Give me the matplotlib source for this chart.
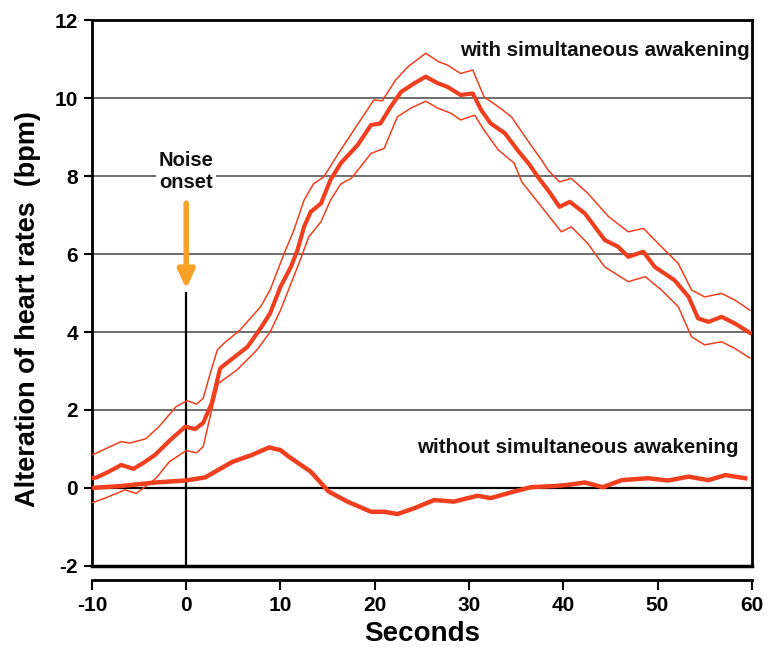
import matplotlib
matplotlib.use("Agg")
import matplotlib.pyplot as plt

plt.rcParams["font.family"] = ["Liberation Sans", "DejaVu Sans"]
plt.rcParams["font.weight"] = "bold"
plt.rcParams["axes.unicode_minus"] = False

RED = "#EF3F1F"
ORANGE = "#F7A128"

# with simultaneous awakening: mean and band
main_x = [-10, -9.5, -8.2, -6.9, -5.6, -4.5, -3.3, -1.7, -0.1, 0.95,
          1.8, 2.3, 2.7, 3.6, 4.7, 6.5, 7.9, 8.9, 10.0, 11.1,
          11.8, 12.5, 13.2, 14.3, 15.3, 16.4, 18.2, 19.6, 20.6, 21.7,
          22.8, 24.2, 25.4, 26.7, 27.7, 29.1, 30.4, 31.3, 32.3, 33.8,
          35.2, 36.4, 37.3, 38.5, 39.6, 40.7, 42.3, 44.4, 45.8, 46.9,
          48.5, 49.7, 51.8, 53.3, 54.3, 55.4, 56.8, 58.2, 59.8]
main_y = [0.25, 0.27, 0.42, 0.59, 0.49, 0.65, 0.85, 1.23, 1.57, 1.51,
          1.67, 1.95, 2.17, 3.07, 3.28, 3.62, 4.10, 4.48, 5.16, 5.67,
          6.10, 6.70, 7.08, 7.30, 7.90, 8.33, 8.80, 9.31, 9.35, 9.78,
          10.16, 10.38, 10.55, 10.38, 10.29, 10.08, 10.12, 9.69, 9.35, 9.10,
          8.65, 8.30, 7.98, 7.60, 7.21, 7.34, 7.04, 6.36, 6.19, 5.93,
          6.06, 5.67, 5.33, 4.90, 4.35, 4.26, 4.39, 4.22, 3.98]

up_x = [-10, -9.5, -6.9, -6.0, -4.3, -2.9, -1.1, 0.1, 1.1, 1.8,
        2.5, 3.3, 4.0, 5.7, 7.9, 8.9, 10.4, 11.4, 12.5, 13.5,
        14.6, 16.2, 18.5, 19.9, 20.8, 22.2, 23.5, 25.4, 26.8, 27.7,
        29.1, 30.4, 31.6, 33.1, 34.5, 36.2, 37.7, 38.4, 39.6, 40.85,
        42.6, 44.8, 46.9, 48.5, 50.4, 52.2, 53.6, 55.0, 56.8, 58.2, 59.8]
up_y = [0.85, 0.90, 1.19, 1.15, 1.26, 1.57, 2.08, 2.24, 2.15, 2.30,
        2.90, 3.54, 3.71, 4.05, 4.65, 5.08, 6.02, 6.60, 7.38, 7.80,
        7.98, 8.60, 9.44, 9.95, 9.93, 10.46, 10.80, 11.15, 10.93, 10.85,
        10.63, 10.72, 10.03, 9.78, 9.52, 8.92, 8.41, 8.15, 7.85, 7.94,
        7.56, 6.96, 6.57, 6.66, 6.19, 5.76, 5.08, 4.90, 4.99, 4.82, 4.56]

lo_x = [-10, -8.6, -6.5, -5.3, -3.2, -1.8, 0.0, 1.1, 1.8, 2.6,
        3.4, 5.4, 7.5, 8.9, 10.0, 12.1, 13.0, 14.3, 15.3, 16.4,
        17.5, 18.5, 19.6, 21.0, 22.4, 23.8, 25.4, 26.7, 28.1, 29.1,
        30.6, 31.6, 33.1, 34.8, 35.6, 37.7, 39.8, 40.85, 42.6, 44.4,
        46.9, 48.7, 50.4, 52.2, 53.6, 55.0, 56.8, 58.2, 59.8]
lo_y = [-0.38, -0.26, -0.05, -0.14, 0.25, 0.67, 0.96, 0.90, 1.06, 1.90,
        2.68, 3.03, 3.54, 4.00, 4.56, 5.85, 6.44, 6.83, 7.38, 7.80,
        7.94, 8.24, 8.58, 8.71, 9.52, 9.74, 9.92, 9.74, 9.61, 9.44,
        9.56, 9.18, 8.67, 8.33, 7.85, 7.21, 6.57, 6.70, 6.27, 5.67,
        5.29, 5.42, 5.08, 4.65, 3.88, 3.67, 3.75, 3.58, 3.33]

# without simultaneous awakening
wo_x = [-10, -6.9, -3.3, -0.1, 2.0, 4.9, 7.0, 8.8, 10.0, 10.9,
        13.2, 15.1, 17.1, 19.6, 21.0, 22.4, 24.2, 26.3, 28.4, 30.9,
        32.3, 34.8, 36.6, 39.1, 40.5, 42.3, 44.2, 46.2, 49.0, 51.1,
        53.3, 55.4, 57.2, 59.3]
wo_y = [0.0, 0.05, 0.14, 0.19, 0.27, 0.67, 0.85, 1.04, 0.97, 0.80,
        0.42, -0.09, -0.35, -0.61, -0.61, -0.67, -0.52, -0.31, -0.35, -0.20,
        -0.26, -0.09, 0.02, 0.05, 0.08, 0.14, 0.02, 0.20, 0.25, 0.19,
        0.29, 0.20, 0.33, 0.25]

x_ticks = [-10, 0, 10, 20, 30, 40, 50, 60]
y_ticks = [-2, 0, 2, 4, 6, 8, 10, 12]

fig = plt.figure(figsize=(7.69, 6.49), dpi=100)
ax = fig.add_axes([0.1196, 0.128, 0.858, 0.841])

# grid
for yv in y_ticks[2:-1]:
    ax.axhline(yv, color="#555555", lw=1.2, zorder=1)
ax.axhline(0, color="black", lw=1.6, zorder=1)
ax.plot([0, 0], [-2, 5.0], color="black", lw=1.6, zorder=1)

ax.plot(up_x, up_y, color=RED, lw=1.1, zorder=3)
ax.plot(lo_x, lo_y, color=RED, lw=1.1, zorder=3)
ax.plot(main_x, main_y, color=RED, lw=3.0, zorder=4)
ax.plot(wo_x, wo_y, color=RED, lw=3.2, zorder=4)

ax.text(59.8, 11.22, "with simultaneous awakening", ha="right", va="center",
        fontsize=14.8, fontweight="bold", color="#111111")
ax.text(58.6, 1.05, "without simultaneous awakening", ha="right", va="center",
        fontsize=14.8, fontweight="bold", color="#111111")
ax.text(0, 8.12, "Noise\nonset", ha="center", va="center", fontsize=14.5,
        fontweight="bold", color="#111111", linespacing=1.2, zorder=5,
        bbox=dict(facecolor="white", edgecolor="none", pad=2))
ax.annotate("", xy=(0, 5.1), xytext=(0, 7.3),
            arrowprops=dict(arrowstyle="-|>,head_width=0.5,head_length=1.1",
                            color=ORANGE, lw=4, shrinkA=0, shrinkB=0), zorder=5)

ax.set_xlim(-10, 60)
ax.set_ylim(-2, 12)
ax.set_xticks(x_ticks)
ax.set_yticks(y_ticks)
ax.tick_params(axis="both", labelsize=15, width=1.5, direction="out")
ax.tick_params(axis="y", length=6, pad=4)
ax.tick_params(axis="x", length=7, pad=5)
for lab in ax.get_xticklabels() + ax.get_yticklabels():
    lab.set_fontweight("bold")

for s in ["left", "right", "top"]:
    ax.spines[s].set_linewidth(2)
ax.spines["bottom"].set_position(("outward", 10))
ax.spines["bottom"].set_linewidth(2)
ax.plot([0, 1], [0, 0], transform=ax.transAxes, color="black", lw=2.5,
        clip_on=False, zorder=6)

ax.set_xlabel("Seconds", fontsize=20, fontweight="bold", labelpad=4)
ax.set_ylabel("Alteration of heart rates  (bpm)", fontsize=19.5,
              fontweight="bold")
ax.yaxis.set_label_coords(-0.077, 0.47)

fig.savefig("out.png", dpi=100)
